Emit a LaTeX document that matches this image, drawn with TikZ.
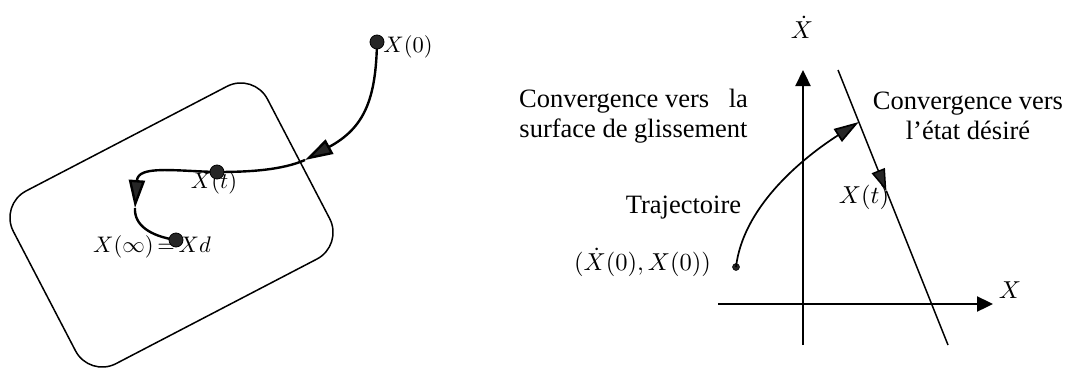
\documentclass[tikz,border=0pt]{standalone}
\usepackage{fontspec}
\setmainfont{Liberation Serif}
\usetikzlibrary{arrows.meta}
\begin{document}
\begin{tikzpicture}[x=1pt,y=-1pt,
  bigdot/.style={circle,draw=black,fill=black!85,line width=0.8pt,minimum size=14pt,inner sep=0pt},
  smalldot/.style={circle,draw=black,fill=black!85,line width=0.5pt,minimum size=7pt,inner sep=0pt},
  mathlbl/.style={inner sep=0pt,font=\fontsize{10}{12}\selectfont,scale=2.25},
  mathlblr/.style={inner sep=0pt,font=\fontsize{10}{12}\selectfont,scale=2.45},
  txt/.style={inner sep=0pt,font=\fontsize{26.5}{30}\selectfont,align=center},
  trajline/.style={line width=2.4pt},
  bigtip/.style={-{Triangle[length=28pt,width=16pt,fill=black!85]}},
  axis/.style={line width=2.3pt,-{Triangle[length=16pt,width=15pt]}},
  thinline/.style={line width=1.5pt},
]
\useasboundingbox (0,0) rectangle (1067,367);

% ---------- left figure ----------
\node[draw,line width=1.5pt,rounded corners=30pt,minimum width=286.5pt,minimum height=194.7pt,
      rotate=27.5,inner sep=0pt] (region) at (171.5,225) {};

\node[mathlbl,anchor=west] (lx0) at (383,47) {$X(0)$};
\node[mathlbl] (lxt) at (214,183) {$X(t)$};
\node[mathlbl] (lxd) at (152,247) {$X(\infty)\mskip3mu{=}\mskip3mu Xd$};

\coordinate (a1) at (305,160);
\coordinate (a2) at (135,208);
\coordinate (x0p) at (377,42);
\coordinate (xtp) at (217,172);
\coordinate (xdp) at (176,240);

\draw[trajline,bigtip] (x0p) .. controls (376,100) and (364,128) .. (a1);
\draw[trajline] (a1) .. controls (282,170) and (250,172) .. (xtp);
\draw[trajline,bigtip] (xtp) .. controls (175,171) and (138,165) .. (a2);
\draw[trajline] (a2) .. controls (134,225) and (150,236) .. (xdp);

\node[bigdot] (x0) at (x0p) {};
\node[bigdot] (xt) at (xtp) {};
\node[bigdot] (xd) at (xdp) {};

% ---------- right figure ----------
\coordinate (ytop) at (803,70);
\coordinate (ybot) at (803,345);
\coordinate (xleft) at (718,304);
\coordinate (xright) at (993,304);
\coordinate (s1) at (838,70);
\coordinate (s2) at (948,345);
\coordinate (sm) at (886.4,191);
\coordinate (hit) at (858.8,122);

\draw[axis] (ybot) -- (ytop);
\draw[axis] (xleft) -- (xright);

\draw[thinline,-{Triangle[length=22pt,width=14pt,fill=black!85]}] (s1) -- (sm);
\draw[thinline] (sm) -- (s2);

\node[smalldot] (p0) at (736,267) {};
\draw[line width=1.7pt,-{Triangle[length=25pt,width=15pt,fill=black!85]}]
  (p0.center) .. controls (744,200) and (815,150) .. (hit);

\node[txt] (cl) at (633.5,116) {Convergence vers\hspace{13pt} la\\surface de glissement};
\node[txt] (cr) at (968,116) {Convergence vers\\l’état désiré};
\node[txt,anchor=base] (tr) at (683.5,213) {Trajectoire};
\node[mathlblr] (p0l) at (642.5,262) {$(\dot X(0), X(0))$};
\node[mathlblr] (xtl) at (864,197) {$X(t)$};
\node[mathlblr] (xdl) at (802,27) {$\dot X$};
\node[mathlblr] (xl) at (1010,290) {$X$};
\end{tikzpicture}
\end{document}
